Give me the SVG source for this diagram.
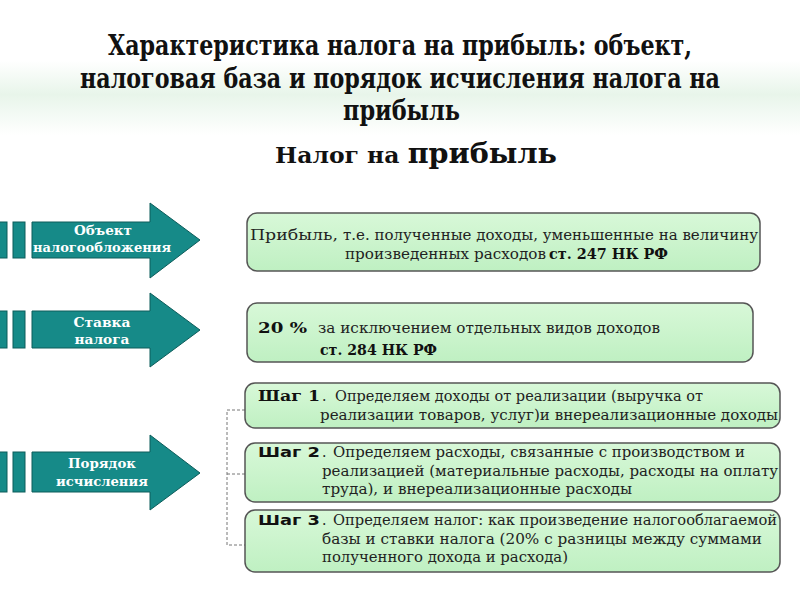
<svg xmlns="http://www.w3.org/2000/svg" width="800" height="600" viewBox="0 0 800 600">
<defs>
<linearGradient id="band" x1="0" y1="0" x2="0" y2="1">
<stop offset="0" stop-color="#ffffff"/>
<stop offset="0.45" stop-color="#ffffff"/>
<stop offset="0.7" stop-color="#e8f5ea"/>
<stop offset="1" stop-color="#ffffff"/>
</linearGradient>
<linearGradient id="boxfill" x1="0" y1="0" x2="0" y2="1">
<stop offset="0" stop-color="#d8f8d8"/>
<stop offset="1" stop-color="#bff0c2"/>
</linearGradient>
</defs>
<style>
.title{font-family:"DejaVu Serif Condensed","DejaVu Serif",serif;font-stretch:condensed;font-weight:bold;font-size:27px;fill:#111}
.sub{font-family:"DejaVu Serif Condensed","DejaVu Serif",serif;font-stretch:condensed;font-weight:bold;fill:#111}
.box{fill:url(#boxfill);stroke:#555;stroke-width:1.5}
.arrow{fill:#168a88;stroke:#0c5c5a;stroke-width:1}
.alabel{font-family:"DejaVu Serif",serif;font-weight:bold;font-size:12px;fill:#fff;text-anchor:middle}
.t{font-family:"DejaVu Serif",serif;font-size:14px;fill:#222}
.b{font-weight:bold;fill:#111}
.sans{font-family:"DejaVu Sans",sans-serif;font-weight:bold;fill:#111}
.dash{fill:none;stroke:#777;stroke-width:1;stroke-dasharray:3 2}
</style>
<rect x="0" y="0" width="800" height="600" fill="#ffffff"/>
<rect x="0" y="0" width="800" height="135" fill="url(#band)"/>

<g id="title">
<text class="title" x="108" y="55" textLength="584" lengthAdjust="spacingAndGlyphs">Характеристика налога на прибыль: объект,</text>
<text class="title" x="80" y="88" textLength="640" lengthAdjust="spacingAndGlyphs">налоговая база и порядок исчисления  налога на</text>
<text class="title" x="343" y="120" textLength="117" lengthAdjust="spacingAndGlyphs">прибыль</text>
</g>
<g id="header">
<text class="sub" x="275" y="163" font-size="23" textLength="282" lengthAdjust="spacingAndGlyphs">Налог на <tspan font-size="28">прибыль</tspan></text>
</g>

<g id="arrow-object">
<rect class="arrow" x="-2" y="222" width="9" height="36"/>
<rect class="arrow" x="13" y="222" width="12" height="36"/>
<path class="arrow" d="M32 222 H150 V203 L200 240 L150 278 V258 H32 Z"/>
<text class="alabel" x="103" y="235" textLength="58" lengthAdjust="spacingAndGlyphs">Объект</text>
<text class="alabel" x="102" y="252" textLength="138" lengthAdjust="spacingAndGlyphs">налогообложения</text>
</g>
<g id="arrow-rate">
<rect class="arrow" x="-2" y="311" width="9" height="37"/>
<rect class="arrow" x="13" y="311" width="12" height="37"/>
<path class="arrow" d="M32 311 H150 V293 L200 330 L150 367 V348 H32 Z"/>
<text class="alabel" x="102" y="327" textLength="57" lengthAdjust="spacingAndGlyphs">Ставка</text>
<text class="alabel" x="102" y="344" textLength="55" lengthAdjust="spacingAndGlyphs">налога</text>
</g>
<g id="arrow-order">
<rect class="arrow" x="-2" y="452" width="9" height="40"/>
<rect class="arrow" x="13" y="452" width="12" height="40"/>
<path class="arrow" d="M32 452 H150 V435 L200 473 L150 510 V492 H32 Z"/>
<text class="alabel" x="102" y="468" textLength="68" lengthAdjust="spacingAndGlyphs">Порядок</text>
<text class="alabel" x="102" y="486" textLength="92" lengthAdjust="spacingAndGlyphs">исчисления</text>
</g>

<g id="connectors">
<path class="dash" d="M245 410 H227 V545 H245 M227 474 H245"/>
</g>

<g id="box-object">
<rect class="box" x="247" y="213" width="513" height="58" rx="10"/>
<text class="t" x="250" y="240" font-size="17" textLength="88" lengthAdjust="spacingAndGlyphs">Прибыль,</text>
<text class="t" x="343" y="240" textLength="415" lengthAdjust="spacingAndGlyphs">т.е. полученные доходы, уменьшенные на величину</text>
<text class="t" x="345" y="259" textLength="201" lengthAdjust="spacingAndGlyphs">произведенных расходов</text>
<text class="t b" x="549" y="259" textLength="119" lengthAdjust="spacingAndGlyphs">ст. 247 НК РФ</text>
</g>

<g id="box-rate">
<rect class="box" x="247" y="303" width="506" height="59" rx="10"/>
<text class="t b" x="258" y="333" font-size="17" textLength="49" lengthAdjust="spacingAndGlyphs">20 %</text>
<text class="t" x="318" y="333" textLength="342" lengthAdjust="spacingAndGlyphs">за исключением отдельных видов доходов</text>
<text class="t b" x="320" y="355" textLength="117" lengthAdjust="spacingAndGlyphs">ст. 284 НК РФ</text>
</g>

<g id="step1">
<rect class="box" x="245" y="383" width="535" height="45" rx="10"/>
<text class="t b" x="258" y="401" textLength="62" lengthAdjust="spacingAndGlyphs">Шаг 1</text>
<text class="t" x="322" y="401">.</text>
<text class="t" x="335" y="401" textLength="368" lengthAdjust="spacingAndGlyphs">Определяем доходы от реализации (выручка от</text>
<text class="t" x="320" y="420" textLength="458" lengthAdjust="spacingAndGlyphs">реализации товаров, услуг)и внереализационные доходы</text>
</g>

<g id="step2">
<rect class="box" x="245" y="443" width="535" height="59" rx="10"/>
<text class="sans" x="258" y="457" font-size="14" textLength="62" lengthAdjust="spacingAndGlyphs">Шаг 2</text>
<text class="t" x="322" y="457">.</text>
<text class="t" x="333" y="457" textLength="412" lengthAdjust="spacingAndGlyphs">Определяем расходы, связанные с производством  и</text>
<text class="t" x="322" y="476" textLength="456" lengthAdjust="spacingAndGlyphs">реализацией (материальные расходы, расходы на оплату</text>
<text class="t" x="322" y="494" textLength="310" lengthAdjust="spacingAndGlyphs">труда), и внереализационные расходы</text>
</g>

<g id="step3">
<rect class="box" x="245" y="510" width="535" height="62" rx="10"/>
<text class="sans" x="258" y="525" font-size="14" textLength="62" lengthAdjust="spacingAndGlyphs">Шаг 3</text>
<text class="t" x="322" y="525">.</text>
<text class="t" x="333" y="525" textLength="444" lengthAdjust="spacingAndGlyphs">Определяем налог: как произведение налогооблагаемой</text>
<text class="t" x="322" y="544" textLength="440" lengthAdjust="spacingAndGlyphs">базы и ставки налога (20% с разницы между суммами</text>
<text class="t" x="322" y="562" textLength="246" lengthAdjust="spacingAndGlyphs">полученного дохода и расхода)</text>
</g>
</svg>
